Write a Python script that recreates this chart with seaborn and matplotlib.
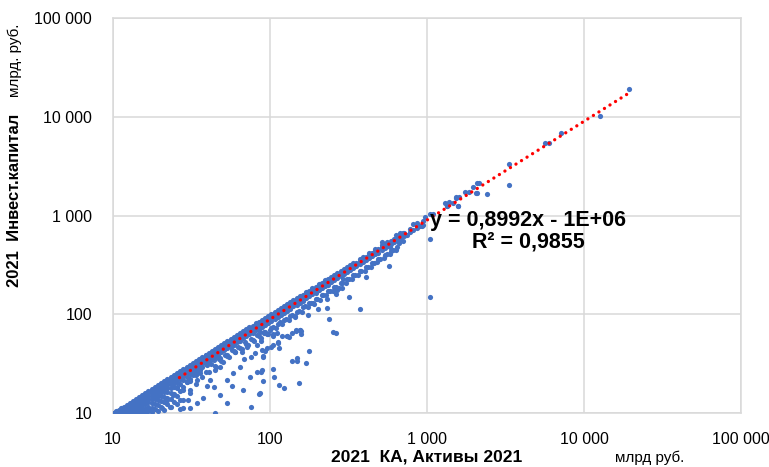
import numpy as np
import pandas as pd
import seaborn as sns
import matplotlib
matplotlib.use("Agg")
import matplotlib.pyplot as plt
from matplotlib.ticker import FuncFormatter, NullLocator

# data, млрд руб.: assets (x) vs invested capital (y)
# dense part, by columns of assets: (assets, [capital values])
core_cols = [
    (10.2, [10.0, 10.1]),
    (10.5, [10.0, 10.2, 10.4]),
    (10.9, [10.0, 10.3, 10.6, 10.8]),
    (11.3, [10.0, 10.4, 10.8, 11.2]),
    (11.8, [10.1, 10.6, 11.1, 11.6]),
    (12.3, [10.0, 10.5, 11.0, 11.5, 12.1]),
    (12.8, [10.1, 10.7, 11.3, 11.9, 12.6]),
    (13.4, [10.0, 10.6, 11.3, 12.0, 12.6, 13.2]),
    (14.0, [10.2, 10.9, 11.6, 12.4, 13.1, 13.8]),
    (14.6, [10.0, 10.8, 11.6, 12.4, 13.2, 13.8, 14.4]),
    (15.3, [10.3, 11.2, 12.1, 13.0, 13.8, 14.5, 15.1]),
    (16.0, [10.1, 11.0, 12.2, 13.4, 14.3, 15.1, 15.8]),
    (16.8, [10.5, 11.6, 12.9, 14.0, 15.0, 15.8, 16.6]),
    (17.6, [10.2, 11.3, 12.6, 13.8, 14.9, 15.9, 16.7, 17.4]),
    (18.4, [11.0, 12.3, 13.9, 15.1, 16.1, 17.0, 17.7, 18.2]),
    (19.3, [10.4, 12.0, 13.5, 14.9, 16.2, 17.3, 18.2, 19.0]),
    (20.2, [11.5, 13.2, 15.0, 16.5, 17.7, 18.7, 19.5, 20.0]),
    (21.2, [10.8, 12.8, 14.6, 16.4, 17.8, 19.0, 20.1, 20.9]),
    (22.2, [12.2, 14.3, 16.3, 18.0, 19.4, 20.5, 21.4, 22.0]),
    (23.3, [11.6, 13.8, 16.0, 18.0, 19.7, 21.0, 22.2, 23.0]),
    (24.4, [13.0, 15.6, 18.2, 20.1, 21.6, 22.8, 23.6, 24.1]),
    (25.6, [12.4, 14.9, 17.8, 20.4, 22.2, 23.5, 24.6, 25.3]),
    (26.8, [16.8, 19.6, 22.0, 23.8, 25.0, 26.0, 26.5]),
    (28.1, [13.5, 18.5, 21.5, 23.8, 25.4, 26.6, 27.4, 27.8]),
    (29.4, [20.4, 23.2, 25.2, 26.8, 28.0, 28.8, 29.1]),
    (30.8, [17.2, 22.3, 25.0, 27.0, 28.6, 29.7, 30.4]),
    (32.3, [24.0, 26.8, 28.9, 30.3, 31.3, 31.9]),
    (33.8, [19.5, 25.5, 28.5, 30.5, 32.0, 33.0, 33.5]),
    (35.4, [27.4, 30.2, 32.4, 33.8, 34.8, 35.1]),
    (37.1, [23.0, 29.0, 32.0, 34.0, 35.4, 36.4, 36.8]),
    (38.9, [31.0, 34.0, 36.0, 37.4, 38.3, 38.6]),
    (40.7, [26.0, 33.0, 36.0, 38.2, 39.5, 40.3]),
    (42.6, [35.0, 38.0, 40.0, 41.4, 42.2]),
    (44.6, [30.0, 37.0, 40.0, 42.2, 43.6, 44.2]),
    (46.7, [39.0, 42.0, 44.3, 45.8, 46.3]),
    (48.9, [34.0, 41.0, 44.5, 46.5, 48.0, 48.5]),
    (51.2, [43.0, 46.5, 48.8, 50.3, 50.8]),
    (53.6, [38.0, 45.0, 49.0, 51.5, 52.8, 53.2]),
    (56.1, [47.0, 51.0, 53.8, 55.2, 55.7]),
    (58.8, [42.0, 49.0, 53.5, 56.5, 58.0, 58.4]),
    (61.5, [52.0, 56.0, 59.0, 60.6, 61.1]),
    (64.4, [46.0, 54.0, 58.5, 61.5, 63.4, 64.0]),
    (67.4, [57.0, 61.5, 64.5, 66.4, 67.0]),
    (70.6, [50.0, 60.0, 64.5, 67.5, 69.6, 70.2]),
    (73.9, [62.5, 67.5, 71.0, 73.0, 73.5]),
    (77.4, [55.0, 65.0, 70.5, 74.2, 76.4]),
    (81.0, [69.0, 74.0, 77.5, 80.0, 80.6]),
    (84.8, [60.0, 71.0, 77.5, 81.5, 84.0]),
    (88.8, [75.0, 81.0, 85.0, 87.8]),
    (93.0, [66.0, 78.0, 85.0, 89.5, 92.0]),
    (97.4, [82.0, 89.0, 93.5, 96.4]),
    (102, [72.0, 86.0, 93.0, 98.0, 101]),
    (107, [90.0, 97.5, 103, 106]),
    (112, [80.0, 94.0, 102, 108, 111]),
    (117, [99.0, 107, 113, 116]),
    (123, [88.0, 104, 112, 119, 122]),
    (129, [109, 118, 124, 127]),
    (135, [96.0, 114, 123, 130, 134]),
    (141, [120, 129, 136, 140]),
    (148, [106, 125, 135, 143, 147]),
    (155, [131, 142, 150, 154]),
    (162, [118, 138, 149, 157]),
    (170, [145, 156, 165, 169]),
    (178, [130, 152, 163, 172]),
    (186, [159, 171, 180, 185]),
    (195, [142, 166, 179, 189]),
    (204, [174, 188, 198, 203]),
    (214, [157, 183, 197, 207]),
    (224, [192, 206, 217, 222]),
    (234, [172, 200, 216, 228]),
    (245, [210, 226, 238]),
    (257, [190, 220, 236, 250]),
    (269, [231, 248, 262]),
    (282, [207, 242, 260, 275]),
    (295, [254, 272, 288]),
    (309, [228, 266, 285, 302]),
    (324, [279, 300, 317]),
    (339, [250, 292, 314, 332]),
    (355, [306, 329]),
    (372, [275, 320, 345, 365]),
    (390, [335, 362, 382]),
    (408, [302, 351, 379]),
    (428, [368, 397, 420]),
    (448, [332, 385, 416]),
    (469, [403, 436, 461]),
    (491, [365, 422, 457]),
    (515, [443, 479, 505]),
    (539, [400, 464, 502]),
    (565, [486, 525]),
    (592, [440, 509, 550]),
    (620, [533, 577]),
    (650, [558, 604]),
    (680, [585, 633]),
    (713, [613, 662]),
    (747, [642]),
    (782, [673, 730]),
    (820, [705]),
    (858, [740, 790]),
    (900, [775]),
    (942, [810, 870]),
]

# lower edge of the main band
mid_x = [31, 34, 36, 39, 42, 45, 47, 50, 52, 55, 57, 60, 63, 66, 69, 72, 76,
         79, 83, 87, 91, 95, 100, 105, 110, 115, 120, 126, 132, 138, 145, 152,
         159, 166, 174, 182, 190, 199, 209, 219, 229, 240, 251, 263, 276, 289,
         303, 317, 332, 348, 365, 382, 400, 419, 439, 460, 482, 505, 529, 554,
         580, 608, 637]
mid_y = [21, 24, 27, 26, 31, 29, 35, 33, 39, 37, 43, 41, 47, 44, 52, 49, 56,
         53, 61, 58, 66, 63, 70, 74, 72, 83, 80, 90, 88, 99, 97, 108,
         106, 120, 118, 131, 128, 143, 141, 158, 155, 172, 170, 190, 186, 208,
         205, 228, 225, 252, 248, 276, 272, 300, 302, 330, 335, 365, 370, 405,
         410, 445, 450]

# scattered companies below the band
low_x = [86, 92, 97, 104, 111, 104, 128, 132, 146, 157, 157, 252, 263, 88, 112,
         96, 101, 114, 93, 90, 177, 138, 149, 149, 169, 89, 104, 90, 106, 114,
         123, 153, 86, 85, 75.7, 44.6, 53.2, 67.3, 74.6, 64.4, 82.6, 87.6, 58.1,
         48, 37.4, 34.3, 27.9, 26.7, 30.9, 30, 39.7, 44.2, 41.5, 35.8, 53.2, 57.3,
         68.3, 75.7, 90.2, 80.2, 88.9, 104.5, 112.5, 119, 128, 138, 155, 82.6, 71,
         66.3, 59.8, 53.2, 48, 48, 44.2, 39.7, 44.6, 35.8, 32.4, 34.3, 29.6, 27.9,
         30.9, 25.6, 24.1, 26.7, 22.1, 23.1, 20.5, 17.2, 146, 155, 144, 175, 188,
         202, 232, 231, 238, 288, 318, 374, 408, 573, 292, 267, 262, 191, 162]
low_y = [66, 64, 63, 63, 64, 60, 60, 59, 67, 67, 63, 66, 64, 53, 52,
         46, 47, 46, 42, 38, 42, 34, 36, 34, 32, 27, 28, 21, 23, 19,
         18, 20, 16, 15.6, 11.5, 10, 12.6, 17.1, 23.1, 29.2, 26, 26, 25.4,
         15.2, 14.2, 12.6, 11.2, 11, 11.2, 13.5, 18.7, 18.3, 21.5, 25.4, 21.5, 18.7,
         35.1, 36.8, 36.8, 40.4, 43.3, 48.6, 50.9, 60, 60, 64.3, 69, 48.6, 46.4,
         41.3, 41.3, 38.5, 35.9, 29.2, 34.3, 30.5, 27.2, 32, 27.2, 21.5, 20.6, 17.1,
         15.9, 18.3, 15.2, 13.5, 13.5, 11.5, 11.2, 10.7, 69, 69, 93, 97.7, 129,
         112, 115, 142, 89, 183, 148.6, 112, 236, 305, 226, 175, 159, 171, 135]

# large companies
big_x = [863, 820, 925, 703, 675, 636, 556, 520, 525, 578, 644, 663, 703, 971,
         1045, 1092, 1300, 1350, 1380, 1341, 1460, 1585, 1531, 1610, 1580, 1530,
         1746, 1852, 2050, 2090, 1963, 2080, 2144, 2410, 3330, 3330, 5650, 5990,
         7140, 12650, 19450, 1045, 1045]
big_y = [830, 812, 777, 658, 658, 630, 534, 534, 510, 484, 475, 521, 555, 955,
         1047, 1047, 1325, 1240, 1385, 1262, 1353, 1262, 1556, 1556, 1262, 1521,
         1747, 1747, 1708, 1708, 1963, 2110, 2155, 1667, 3350, 2056, 5460, 5460,
         6890, 10240, 19060, 573, 149]

# linear trendline shown on the chart: y = 0,8992x - 1E+06 (тыс. руб.)
trend_slope = 0.8992
trend_intercept = -1.0  # млрд руб.
trend_range = [26.5, 19900]

rows = [(x, y) for x, ys in core_cols for y in ys]
rows += list(zip(mid_x, mid_y)) + list(zip(low_x, low_y)) + list(zip(big_x, big_y))
df = pd.DataFrame(rows, columns=["assets", "capital"])

sns.set_style("white")
plt.rcParams["font.family"] = ["Liberation Sans", "DejaVu Sans"]
plt.rcParams["text.color"] = "black"

fig = plt.figure(figsize=(7.69, 4.67), dpi=100)
ax = fig.add_axes([113 / 769, 1 - 413 / 467, 628 / 769, 395 / 467])

sns.scatterplot(data=df, x="assets", y="capital", color="#4472C4", s=14,
                linewidth=0, ax=ax, zorder=3)

tx = np.geomspace(trend_range[0], trend_range[1], 60)
ax.plot(tx, trend_slope * tx + trend_intercept, color="#FF0000", lw=2.4,
        linestyle=(0, (0.01, 1.95)), dash_capstyle="round", zorder=4)

ax.set_xscale("log")
ax.set_yscale("log")
ax.set_xlim(10, 100000)
ax.set_ylim(10, 100000)
ticks = [10, 100, 1000, 10000, 100000]
ax.set_xticks(ticks)
ax.set_yticks(ticks)
ax.xaxis.set_minor_locator(NullLocator())
ax.yaxis.set_minor_locator(NullLocator())
fmt = FuncFormatter(lambda v, p: f"{int(round(v)):,}".replace(",", " "))
ax.xaxis.set_major_formatter(fmt)
ax.yaxis.set_major_formatter(fmt)
ax.tick_params(axis="both", length=0, labelsize=11.5, colors="#000000")
ax.tick_params(axis="x", pad=14)
ax.tick_params(axis="y", pad=15)
ax.grid(True, color="#D9D9D9", lw=1.1)
ax.set_axisbelow(True)
for s in ax.spines.values():
    s.set_color("#D9D9D9")
    s.set_linewidth(1.1)
ax.set_xlabel("")
ax.set_ylabel("")

fig.text(427 / 769, 1 - 457 / 467, "2021  КА, Активы 2021", ha="center",
         va="center", fontsize=12.5, fontweight="bold")
fig.text(650 / 769, 1 - 458 / 467, "млрд руб.", ha="center", va="center",
         fontsize=11)
fig.text(15 / 769, 1 - 200 / 467, "2021  Инвест.капитал", ha="center",
         va="center", rotation=90, fontsize=12, fontweight="bold")
fig.text(15 / 769, 1 - 60 / 467, "млрд. руб.", ha="center", va="center",
         rotation=90, fontsize=11)

ax.text(528 / 769, 1 - 231 / 467, "y = 0,8992x - 1E+06\nR² = 0,9855",
        transform=fig.transFigure, ha="center", va="center", fontsize=15.5,
        fontweight="bold", linespacing=1.05, color="black", zorder=5)

fig.savefig("out.png", dpi=100)
